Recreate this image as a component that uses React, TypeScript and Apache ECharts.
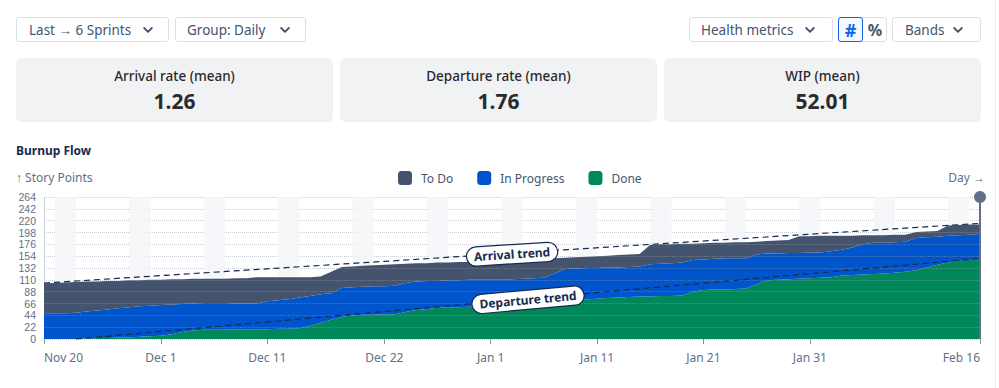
import React, { useEffect, useRef } from "react";
import * as echarts from "echarts";

const MONTHS = ["Jan", "Feb", "Mar", "Apr", "May", "Jun", "Jul", "Aug", "Sep", "Oct", "Nov", "Dec"];
const START_DATE = { year: 2025, month: 10, day: 20 }; // Nov 20
const DAY_COUNT = 89;
const categories: string[] = Array.from({ length: DAY_COUNT }, (_, i) => {
  const d = new Date(Date.UTC(START_DATE.year, START_DATE.month, START_DATE.day + i));
  return `${MONTHS[d.getUTCMonth()]} ${d.getUTCDate()}`;
});
const labelIndices = [0, 11, 21, 32, 42, 52, 62, 72, 88];

const yMax = 264;
const yInterval = 22;

// cumulative totals (top of each stacked band)
const scopeTotal = [
  103, 104, 105, 106, 107, 107, 108, 108, 109, 109,
  110, 110, 111, 111, 112, 112, 112, 112, 113, 113,
  115, 115, 115, 115, 115, 115, 116, 125, 134, 135,
  136, 137, 138, 139, 140, 141, 141, 142, 142, 143,
  143, 144, 144, 144, 145, 146, 147, 148, 150, 151,
  152, 153, 154, 155, 156, 157, 158, 175, 176, 176,
  177, 177, 178, 179, 179, 180, 180, 181, 182, 183,
  184, 191, 191, 192, 192, 192, 192, 193, 193, 193,
  194, 194, 199, 200, 201, 211, 212, 213, 213,
];
const startedTotal = [
  48, 48, 48, 49, 51, 53, 55, 57, 59, 61,
  62, 63, 64, 65, 66, 67, 67, 67, 66, 66,
  66, 70, 72, 74, 77, 80, 83, 85, 95, 96,
  97, 98, 98, 99, 104, 107, 108, 108, 109, 109,
  110, 110, 110, 110, 111, 112, 113, 114, 122, 130,
  131, 132, 132, 133, 133, 134, 135, 139, 140, 141,
  142, 147, 148, 149, 150, 150, 150, 157, 159, 159,
  160, 160, 161, 161, 163, 166, 170, 176, 179, 179,
  180, 181, 188, 189, 190, 192, 193, 194, 195,
];
const doneTotal = [
  0, 0, 0, 0, 1, 2, 2, 3, 3, 4,
  5, 6, 9, 13, 16, 17, 17, 17, 18, 18,
  18, 18, 19, 19, 20, 24, 30, 36, 41, 44,
  45, 45, 46, 46, 50, 54, 56, 58, 59, 59,
  60, 60, 60, 60, 64, 67, 69, 71, 72, 73,
  74, 74, 75, 76, 77, 78, 79, 79, 80, 80,
  81, 88, 91, 92, 92, 93, 94, 102, 109, 110,
  111, 112, 113, 114, 115, 118, 119, 120, 121, 122,
  123, 125, 128, 133, 138, 142, 145, 147, 148,
];

const weekendStarts = [1, 8, 15, 22, 29, 36, 43, 50, 57, 64, 71, 78, 85];
const weekendLength = 2;

const arrivalTrend: [number, number][] = [[0, 104], [88, 215]];
const departureTrend: [number, number][] = [[3, 0], [88, 149.6]];
const todayIndex = 88;

const metricLabels = ["Arrival rate (mean)", "Departure rate (mean)", "WIP (mean)"];
const metricValues = ["1.26", "1.76", "52.01"];

const legendNames = ["To Do", "In Progress", "Done"];
const COLORS = { todo: "#44546f", progress: "#0055cc", done: "#00875a" };

const FONT = '"Noto Sans", sans-serif';
const TICK_FONT = '"Liberation Sans", Arial, sans-serif';

function Chevron() {
  return (
    <svg width="10" height="6" viewBox="0 0 10 6" style={{ display: "block" }}>
      <polyline points="1.2,1 5,4.8 8.8,1" fill="none" stroke="#44546f" strokeWidth="1.8" strokeLinecap="round" strokeLinejoin="round" />
    </svg>
  );
}

function Btn(props: { left: number; width: number; text: string; pl: number; pr: number }) {
  return (
    <div
      style={{
        position: "absolute",
        left: props.left,
        top: 17,
        width: props.width,
        height: 25,
        boxSizing: "border-box",
        border: "1px solid #dcdfe4",
        borderRadius: 3,
        background: "#fff",
        display: "flex",
        alignItems: "center",
        justifyContent: "space-between",
        paddingLeft: props.pl,
        paddingRight: props.pr,
        fontSize: 13.5,
        color: "#44546f",
        whiteSpace: "nowrap",
      }}
    >
      <span>{props.text}</span>
      <Chevron />
    </div>
  );
}

function Chart() {
  const ref = useRef<HTMLDivElement>(null);
  useEffect(() => {
    if (!ref.current) return;
    const chart = echarts.init(ref.current, undefined, { renderer: "svg" });
    const labelSet = new Set(labelIndices);
    const done = doneTotal;
    const progress = startedTotal.map((v, i) => v - doneTotal[i]);
    const todo = scopeTotal.map((v, i) => v - startedTotal[i]);

    const trendLabel = (text: string) => ({
      show: true,
      position: "middle",
      formatter: text,
      distance: -10,
      backgroundColor: "#fff",
      borderColor: "#172b4d",
      borderWidth: 1.2,
      borderRadius: 10,
      padding: [3, 7, 3, 7],
      color: "#172b4d",
      fontWeight: "bold",
      fontSize: 12,
      fontFamily: FONT,
    });

    chart.setOption({
      animation: false,
      textStyle: { fontFamily: FONT },
      grid: { left: 44, right: 19, top: 62, bottom: 49, containLabel: false },
      legend: {
        data: legendNames,
        left: 398,
        top: 36,
        padding: 0,
        itemWidth: 14,
        itemHeight: 14,
        itemGap: 24,
        icon: "roundRect",
        selectedMode: false,
        textStyle: { color: "#44546f", fontSize: 12, fontFamily: FONT, padding: [0, 0, 0, 4] },
      },
      graphic: [
        { type: "text", left: 16, top: 9, style: { text: "Burnup Flow", fontSize: 12, fontWeight: "bold", fill: "#172b4d", fontFamily: FONT } },
        { type: "text", left: 16, top: 36, style: { text: "↑ Story Points", fontSize: 12, fill: "#626f86", fontFamily: FONT } },
        { type: "text", right: 14, top: 36, style: { text: "Day →", fontSize: 12, fill: "#626f86", fontFamily: FONT } },
      ],
      xAxis: {
        type: "category",
        data: categories,
        boundaryGap: false,
        offset: 3,
        axisLine: { show: false },
        axisTick: { show: true, length: 5, interval: (i: number) => labelSet.has(i), lineStyle: { color: "#8590a2" } },
        axisLabel: {
          interval: (i: number) => labelSet.has(i),
          color: "#626f86",
          fontSize: 12,
          margin: 9,
          alignMinLabel: "left",
          alignMaxLabel: "right",
        },
        splitLine: { show: false },
      },
      yAxis: [
        {
          type: "value",
          min: 0,
          max: yMax,
          interval: yInterval,
          z: 0,
          axisLine: { show: true, lineStyle: { color: "#c1c7d0", type: "dotted" } },
          axisTick: { show: false },
          axisLabel: { color: "#626f86", fontSize: 10.5, lineHeight: 10, fontFamily: TICK_FONT, margin: 8 },
          splitLine: { show: true, lineStyle: { color: "#c1c7d0", type: "dotted", width: 1 } },
        },
        {
          type: "value",
          min: 0,
          max: yMax,
          interval: yInterval,
          position: "left",
          z: 5,
          axisLine: { show: false },
          axisTick: { show: false },
          axisLabel: { show: false },
          splitLine: { show: true, lineStyle: { color: "rgba(215,220,228,0.28)", type: "dotted", width: 1 } },
        },
      ],
      series: [
        {
          name: "bands",
          type: "line",
          data: [],
          z: 1,
          silent: true,
          markArea: {
            silent: true,
            itemStyle: { color: "#f6f7f8" },
            data: weekendStarts.map((s) => [{ xAxis: categories[s] }, { xAxis: categories[s + weekendLength] }]),
          },
        },
        {
          name: "Done",
          type: "line",
          stack: "flow",
          data: done,
          symbol: "none",
          z: 2,
          lineStyle: { width: 0 },
          itemStyle: { color: COLORS.done },
          areaStyle: { color: COLORS.done, opacity: 1 },
        },
        {
          name: "In Progress",
          type: "line",
          stack: "flow",
          data: progress,
          symbol: "none",
          z: 2,
          lineStyle: { width: 0 },
          itemStyle: { color: COLORS.progress },
          areaStyle: { color: COLORS.progress, opacity: 1 },
        },
        {
          name: "To Do",
          type: "line",
          stack: "flow",
          data: todo,
          symbol: "none",
          z: 2,
          lineStyle: { width: 0 },
          itemStyle: { color: COLORS.todo },
          areaStyle: { color: COLORS.todo, opacity: 1 },
        },
        {
          name: "today",
          type: "line",
          data: [],
          z: 9,
          silent: true,
          markLine: {
            silent: true,
            symbol: ["none", "circle"],
            symbolSize: 12,
            label: { show: false },
            lineStyle: { color: "#626f86", width: 2, type: "solid" },
            data: [{ xAxis: categories[todayIndex] }],
          },
        },
        {
          name: "trends",
          type: "line",
          data: [],
          z: 10,
          silent: true,
          markLine: {
            silent: true,
            symbol: ["none", "none"],
            lineStyle: { color: "#172b4d", width: 1.2, type: [6, 4] },
            data: [
              [
                { coord: [categories[arrivalTrend[0][0]], arrivalTrend[0][1]], label: trendLabel("Arrival trend") },
                { coord: [categories[arrivalTrend[1][0]], arrivalTrend[1][1]] },
              ],
              [
                { coord: [categories[departureTrend[0][0]], departureTrend[0][1]], label: trendLabel("Departure trend") },
                { coord: [categories[departureTrend[1][0]], departureTrend[1][1]] },
              ],
            ],
          },
        },
      ],
    });
    return () => chart.dispose();
  }, []);
  return <div ref={ref} style={{ position: "absolute", left: 0, top: 135, width: 999, height: 253 }} />;
}

export default function App() {
  const cardLefts = [16, 340, 664];
  return (
    <div
      style={{
        position: "absolute",
        left: 0,
        top: 0,
        width: 999,
        height: 388,
        background: "#fff",
        fontFamily: FONT,
        overflow: "hidden",
      }}
    >
      <Btn left={16} width={153} text="Last → 6 Sprints" pl={12} pr={15} />
      <Btn left={175} width={131} text="Group: Daily" pl={11} pr={15} />
      <Btn left={689} width={144} text="Health metrics" pl={11} pr={17} />
      <div
        style={{
          position: "absolute",
          left: 838,
          top: 17,
          width: 49,
          height: 25,
          boxSizing: "border-box",
          border: "1px solid #dcdfe4",
          borderRadius: 3,
          background: "#fff",
        }}
      />
      <div
        style={{
          position: "absolute",
          left: 838,
          top: 17,
          width: 25,
          height: 25,
          boxSizing: "border-box",
          border: "1px solid #0c66e4",
          borderRadius: 3,
          background: "#f4f8ff",
          color: "#0c66e4",
          fontWeight: 700,
          fontSize: 18,
          display: "flex",
          alignItems: "center",
          justifyContent: "center",
          lineHeight: 1,
        }}
      >
        #
      </div>
      <div
        style={{
          position: "absolute",
          left: 863,
          top: 17,
          width: 24,
          height: 25,
          color: "#44546f",
          fontWeight: 700,
          fontSize: 16,
          display: "flex",
          alignItems: "center",
          justifyContent: "center",
          lineHeight: 1,
        }}
      >
        %
      </div>
      <Btn left={892} width={89} text="Bands" pl={12} pr={17} />
      {cardLefts.map((l, i) => (
        <div
          key={i}
          style={{
            position: "absolute",
            left: l,
            top: 58,
            width: 317,
            height: 64,
            background: "#f1f2f4",
            borderRadius: 6,
            textAlign: "center",
            color: "#292a2e",
          }}
        >
          <div style={{ position: "absolute", left: 0, right: 0, top: 9, fontSize: 13.5, fontWeight: 500, lineHeight: "18px" }}>
            {metricLabels[i]}
          </div>
          <div style={{ position: "absolute", left: 0, right: 0, top: 29, fontSize: 21, fontWeight: 700, lineHeight: "28px" }}>
            {metricValues[i]}
          </div>
        </div>
      ))}
      <div style={{ position: "absolute", left: 995, top: 0, width: 1, height: 388, background: "#ebecf0" }} />
      <Chart />
    </div>
  );
}
